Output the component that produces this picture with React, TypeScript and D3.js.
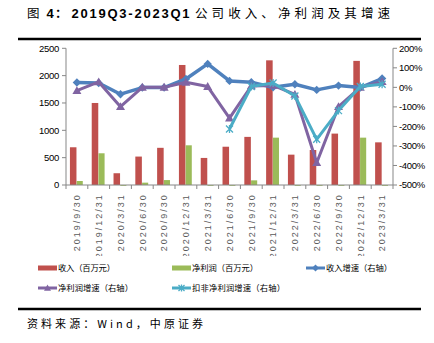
import React from "react";
import * as d3 from "d3";

const categories = ["2019/9/30","2019/12/31","2020/3/31","2020/6/30","2020/9/30","2020/12/31","2021/3/31","2021/6/30","2021/9/30","2021/12/31","2022/3/31","2022/6/30","2022/9/30","2022/12/31","2023/3/31"];
const revenue = [690,1500,215,520,680,2195,495,700,880,2280,555,640,940,2270,780];
const netProfit = [73,580,-12,43,90,726,-10,-10,85,866,-10,-12,-3,866,-12];
const revGrowth = [25,22,-35,-1,-1,43,120,33,26,0,16,-13,9,-1,45];
const npGrowth = [-17,28,-99,0,0,26,4,-158,7,10,-36,-386,-99,0,29];
const dedGrowth: (number | null)[] = [null,null,null,null,null,null,null,-213,4,22,-44,-266,-119,4,16];
const leftTicks = [0,500,1000,1500,2000,2500];
const rightTicks = [-500,-400,-300,-200,-100,0,100,200];

const RED = "#C0504D", GREEN = "#9BBB59", BLUE = "#4F81BD", PURPLE = "#8064A2", CYAN = "#4BACC6";
const AXIS = "#878787";
const FONT = "'Liberation Sans', Arial, sans-serif";
const CJK = "'Noto Sans CJK SC', sans-serif";

const L = 66, R = 393, T = 48.3, B = 185;

function diamond(x: number, y: number, s = 4.2) {
  return `M${x},${y - s}L${x + s},${y}L${x},${y + s}L${x - s},${y}Z`;
}
function triangle(x: number, y: number, s = 4.5) {
  return `M${x},${y - s}L${x + s},${y + s * 0.75}L${x - s},${y + s * 0.75}Z`;
}
function cross(x: number, y: number, s = 3.5) {
  return `M${x - s},${y - s}L${x + s},${y + s}M${x + s},${y - s}L${x - s},${y + s}M${x},${y - s - 0.5}L${x},${y + s + 0.5}`;
}

export default function App() {
  const x = d3.scaleBand<string>().domain(categories).range([L, R]).padding(0);
  const bw = x.bandwidth();
  const yL = d3.scaleLinear().domain([0, 2500]).range([B, T]);
  const yR = d3.scaleLinear().domain([-500, 200]).range([B, T]);
  const cx = (i: number) => (x(categories[i]) as number) + bw / 2;

  const line = d3.line<number | null>()
    .defined((d) => d !== null)
    .x((_, i) => cx(i))
    .y((d) => yR(d as number));

  const legendItems = [
    { label: "收入（百万元）", x: 38, y: 268, kind: "rect", color: RED, w: 57 },
    { label: "净利润（百万元）", x: 172, y: 268, kind: "rect", color: GREEN, w: 66 },
    { label: "收入增速（右轴）", x: 306, y: 268, kind: "diamond", color: BLUE, w: 66 },
    { label: "净利润增速（右轴）", x: 38, y: 288, kind: "triangle", color: PURPLE, w: 75 },
    { label: "扣非净利润增速（右轴）", x: 172, y: 288, kind: "cross", color: CYAN, w: 93 },
  ];

  return (
    <svg width={434} height={343} style={{ position: "absolute", left: 0, top: 0, background: "#fff" }}>
      <defs>
        <clipPath id="xlabclip">
          <rect x={0} y={186} width={434} height={70} />
        </clipPath>
      </defs>
      {/* title */}
      <text x={27} y={18} fontFamily={CJK} fontSize={12.5} fill="#000">图</text>
      <text x={46.5} y={18} fontFamily={FONT} fontWeight="bold" fontSize={13} fill="#000">4</text>
      <text x={55} y={18} fontFamily={CJK} fontWeight="bold" fontSize={12.5} fill="#000">：</text>
      <text x={71.5} y={18} fontFamily={FONT} fontWeight="bold" fontSize={13} fill="#000" textLength={118} lengthAdjust="spacing">2019Q3-2023Q1</text>
      <text x={195} y={18} fontFamily={CJK} fontSize={12.5} fill="#000" textLength={195} lengthAdjust="spacing">公司收入、净利润及其增速</text>
      <line x1={18} x2={421} y1={39} y2={39} stroke="#000" strokeWidth={2.6} />

      {/* bars */}
      {categories.map((c, i) => {
        const x0 = x(c) as number;
        const r = revenue[i], g = netProfit[i];
        return (
          <g key={c}>
            <rect x={x0 + 0.18 * bw} width={0.3 * bw} y={Math.min(yL(r), yL(0))} height={Math.abs(yL(r) - yL(0))} fill={RED} />
            <rect x={x0 + 0.49 * bw} width={0.28 * bw} y={Math.min(yL(g), yL(0))} height={Math.max(0.8, Math.abs(yL(g) - yL(0)))} fill={GREEN} />
          </g>
        );
      })}

      {/* axes */}
      <line x1={L} x2={L} y1={T} y2={B} stroke={AXIS} strokeWidth={1} />
      <line x1={R} x2={R} y1={T} y2={B} stroke={AXIS} strokeWidth={1} />
      <line x1={L} x2={R} y1={B} y2={B} stroke={AXIS} strokeWidth={1} />
      {leftTicks.map((t) => (
        <g key={"l" + t}>
          <line x1={L - 4} x2={L} y1={yL(t)} y2={yL(t)} stroke={AXIS} />
          <text x={59} y={yL(t) + 3.4} textAnchor="end" fontFamily={FONT} fontSize={9.5} letterSpacing={-0.3} fill="#000">{t}</text>
        </g>
      ))}
      {rightTicks.map((t) => (
        <g key={"r" + t}>
          <line x1={R} x2={R + 4} y1={yR(t)} y2={yR(t)} stroke={AXIS} />
          <text x={399} y={yR(t) + 3.4} fontFamily={FONT} fontSize={9.5} letterSpacing={-0.3} fill="#000">{t}%</text>
        </g>
      ))}
      {categories.map((c) => (
        <line key={"xt" + c} x1={(x(c) as number) + bw} x2={(x(c) as number) + bw} y1={B} y2={B + 4} stroke={AXIS} />
      ))}
      <line x1={L} x2={L} y1={B} y2={B + 4} stroke={AXIS} />
      <g clipPath="url(#xlabclip)">
        {categories.map((c, i) => (
          <text key={"xl" + c} transform={`translate(${cx(i) + 3.2},193.3) rotate(-90)`} textAnchor="end" fontFamily={FONT} fontSize={9} letterSpacing={2} fill="#595959">{c}</text>
        ))}
      </g>

      {/* lines */}
      <path d={line(revGrowth) as string} fill="none" stroke={BLUE} strokeWidth={3.5} strokeLinejoin="round" />
      {revGrowth.map((v, i) => <path key={"bd" + i} d={diamond(cx(i), yR(v))} fill={BLUE} />)}
      <path d={line(npGrowth) as string} fill="none" stroke={PURPLE} strokeWidth={3} strokeLinejoin="round" />
      {npGrowth.map((v, i) => <path key={"pt" + i} d={triangle(cx(i), yR(v))} fill={PURPLE} />)}
      <path d={line(dedGrowth) as string} fill="none" stroke={CYAN} strokeWidth={3} strokeLinejoin="round" />
      {dedGrowth.map((v, i) => v === null ? null : <path key={"cx" + i} d={cross(cx(i), yR(v))} stroke={CYAN} strokeWidth={1.3} fill="none" />)}

      {/* legend */}
      {legendItems.map((it) => (
        <g key={it.label}>
          {it.kind === "rect" ? (
            <rect x={it.x} y={it.y - 2.5} width={19} height={5} fill={it.color} />
          ) : (
            <g>
              <line x1={it.x} x2={it.x + 19} y1={it.y} y2={it.y} stroke={it.color} strokeWidth={3} />
              {it.kind === "diamond" && <path d={diamond(it.x + 9.5, it.y, 3.5)} fill={it.color} />}
              {it.kind === "triangle" && <path d={triangle(it.x + 9.5, it.y, 3.5)} fill={it.color} />}
              {it.kind === "cross" && <path d={cross(it.x + 9.5, it.y, 3)} stroke={it.color} strokeWidth={1.3} fill="none" />}
            </g>
          )}
          <text x={it.x + 20} y={it.y + 3.2} fontFamily={CJK} fontSize={8.3} fill="#000" textLength={it.w} lengthAdjust="spacing">{it.label}</text>
        </g>
      ))}

      {/* footer */}
      <line x1={18} x2={421} y1={309} y2={309} stroke="#000" strokeWidth={2.6} />
      <text x={27} y={328} fontFamily={CJK} fontSize={11} fill="#000" textLength={176} lengthAdjust="spacing">资料来源：Wind，中原证券</text>
    </svg>
  );
}
